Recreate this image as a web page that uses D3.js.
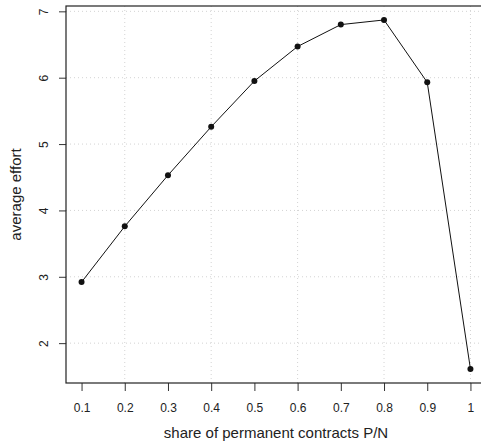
<!DOCTYPE html>
<html>
<head>
<meta charset="utf-8">
<script src="https://cdn.jsdelivr.net/npm/d3@7"></script>
<style>
  body { margin: 0; background: #fff; }
  text { font-family: "Liberation Sans", Arial, sans-serif; }
</style>
</head>
<body>
<div id="vis"></div>
<script>
// values
var share = [0.1, 0.2, 0.3, 0.4, 0.5, 0.6, 0.7, 0.8, 0.9, 1.0];
var effort = [2.92, 3.76, 4.53, 5.26, 5.95, 6.47, 6.80, 6.87, 5.93, 1.61];
var xTicks = [0.1, 0.2, 0.3, 0.4, 0.5, 0.6, 0.7, 0.8, 0.9, 1];
var yTicks = [2, 3, 4, 5, 6, 7];
var xGrid = [0.2, 0.4, 0.6, 0.8, 1.0];

var w = 481;
var h = 443;

var chart = d3.select("#vis")
              .append("svg")
              .attr("width", w)
              .attr("height", h)
              .style("background-color", "#fff")

// R style 4% padding on each side of the data range
var xPad = (d3.max(share) - d3.min(share)) * 0.04;
var yPad = (d3.max(effort) - d3.min(effort)) * 0.04;

const xScale = d3.scaleLinear()
            .domain([d3.min(share) - xPad, d3.max(share) + xPad])
            .range([66, 486])
const yScale = d3.scaleLinear()
            .domain([d3.min(effort) - yPad, d3.max(effort) + yPad])
            .range([383, 6])

// dotted grid
chart.append("g").selectAll("line")
     .data(yTicks)
     .enter().append("line")
     .attr("x1", xScale.range()[0]).attr("x2", xScale.range()[1])
     .attr("y1", d => yScale(d)).attr("y2", d => yScale(d))
     .attr("stroke", "#d3d3d3").attr("stroke-dasharray", "1,3")
chart.append("g").selectAll("line")
     .data(xGrid)
     .enter().append("line")
     .attr("y1", yScale.range()[0]).attr("y2", yScale.range()[1])
     .attr("x1", d => xScale(d)).attr("x2", d => xScale(d))
     .attr("stroke", "#d3d3d3").attr("stroke-dasharray", "1,3")

// axes
const xAxis = chart.append("g")
            .attr("transform", `translate(0,${yScale.range()[0]})`)
            .call(d3.axisBottom(xScale).tickValues(xTicks).tickSize(8).tickPadding(12)
                    .tickFormat(d => d === 1 ? "1" : d3.format(".1f")(d)))
xAxis.select(".domain").remove()
xAxis.selectAll("text").style("font-size", "12px").attr("fill", "#222")
xAxis.selectAll("line").attr("stroke", "#333")

const yAxis = chart.append("g")
            .attr("transform", `translate(${xScale.range()[0]},0)`)
            .call(d3.axisLeft(yScale).tickValues(yTicks).tickSize(7).tickFormat(d3.format("d")))
yAxis.select(".domain").remove()
yAxis.selectAll("line").attr("stroke", "#333")
yAxis.selectAll("text")
     .attr("x", null).attr("dy", null)
     .attr("transform", "translate(-22,0) rotate(-90)")
     .attr("text-anchor", "middle")
     .attr("dominant-baseline", "central")
     .attr("fill", "#222")
     .style("font-size", "12px")

// box round the plot region
chart.append("rect")
     .attr("x", xScale.range()[0])
     .attr("y", yScale.range()[1])
     .attr("width", xScale.range()[1] - xScale.range()[0])
     .attr("height", yScale.range()[0] - yScale.range()[1])
     .attr("fill", "none")
     .attr("stroke", "#222")
     .attr("stroke-width", 1.2)

// line and points
chart.append("path")
     .datum(share.map((s, i) => [s, effort[i]]))
     .attr("d", d3.line().x(d => xScale(d[0])).y(d => yScale(d[1])))
     .attr("fill", "none")
     .attr("stroke", "#111")
     .attr("stroke-width", 1)

chart.selectAll("circle")
     .data(share)
     .enter().append("circle")
     .attr("cx", d => xScale(d))
     .attr("cy", (d, i) => yScale(effort[i]))
     .attr("r", 3)
     .attr("fill", "#111")

// titles
chart.append("text")
     .attr("x", (xScale.range()[0] + xScale.range()[1]) / 2)
     .attr("y", 438)
     .attr("text-anchor", "middle")
     .style("font-size", "15px")
     .attr("fill", "#222")
     .text("share of permanent contracts P/N")

chart.append("text")
     .attr("transform", `translate(15,${(yScale.range()[0] + yScale.range()[1]) / 2}) rotate(-90)`)
     .attr("text-anchor", "middle")
     .attr("dominant-baseline", "central")
     .style("font-size", "15px")
     .attr("fill", "#222")
     .text("average effort")
</script>
</body>
</html>
